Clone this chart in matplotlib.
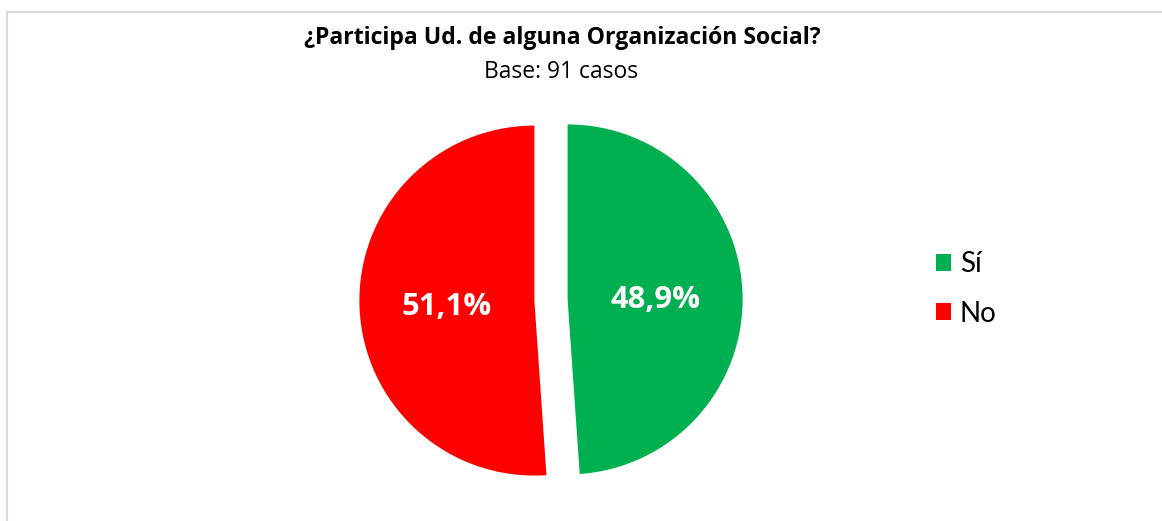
import matplotlib
matplotlib.use("Agg")
import matplotlib.pyplot as plt
from matplotlib.patches import Rectangle

categories = ["Sí", "No"]
values = [48.9, 51.1]
colors = ["#00B050", "#FF0000"]
title = "¿Participa Ud. de alguna Organización Social?"
subtitle = "Base: 91 casos"

W, H = 1162, 521
fig = plt.figure(figsize=(W / 100, H / 100), dpi=100)
fig.patch.set_facecolor("white")

# border
fig.add_artist(Rectangle((7 / W, -0.1), 1.2, (H - 12) / H + 0.1, transform=fig.transFigure,
                         fill=False, edgecolor="#D9D9D9", linewidth=1.5))

cx, cy, R = 551, 300, 175
s = 1.25
ax = fig.add_axes([(cx - R * s) / W, (H - cy - R * s) / H, 2 * R * s / W, 2 * R * s / H])

wedges, texts, autotexts = ax.pie(values, colors=colors, startangle=90, counterclock=False,
                                  explode=[0.095, 0.095], autopct=lambda p: f"{p:.1f}%".replace(".", ","),
                                  pctdistance=0.5, frame=True,
                                  textprops=dict(color="white", fontsize=22.3, fontweight="bold",
                                                 family="Open Sans"))
for t in autotexts:
    x, y = t.get_position()
    t.set_position((x, y - 0.02))
ax.set_xlim(-s, s)
ax.set_ylim(-s, s)
ax.axis("off")

fig.text(562 / W, 1 - 38 / H, title, ha="center", va="center", fontsize=16.6,
         fontweight="bold", family="Open Sans", color="#000000")
fig.text(561 / W, 1 - 72 / H, subtitle, ha="center", va="center", fontsize=16.5,
         family="Open Sans", color="#000000")

leg = fig.legend(wedges, categories, loc="center left", bbox_to_anchor=(936 / W, 1 - 289 / H),
                 frameon=False, handlelength=0.55, handleheight=0.55, handletextpad=0.3,
                 labelspacing=0.83, borderpad=0, borderaxespad=0,
                 prop=dict(family="Lato", size=20))

fig.savefig("out.png", dpi=100, facecolor="white")
